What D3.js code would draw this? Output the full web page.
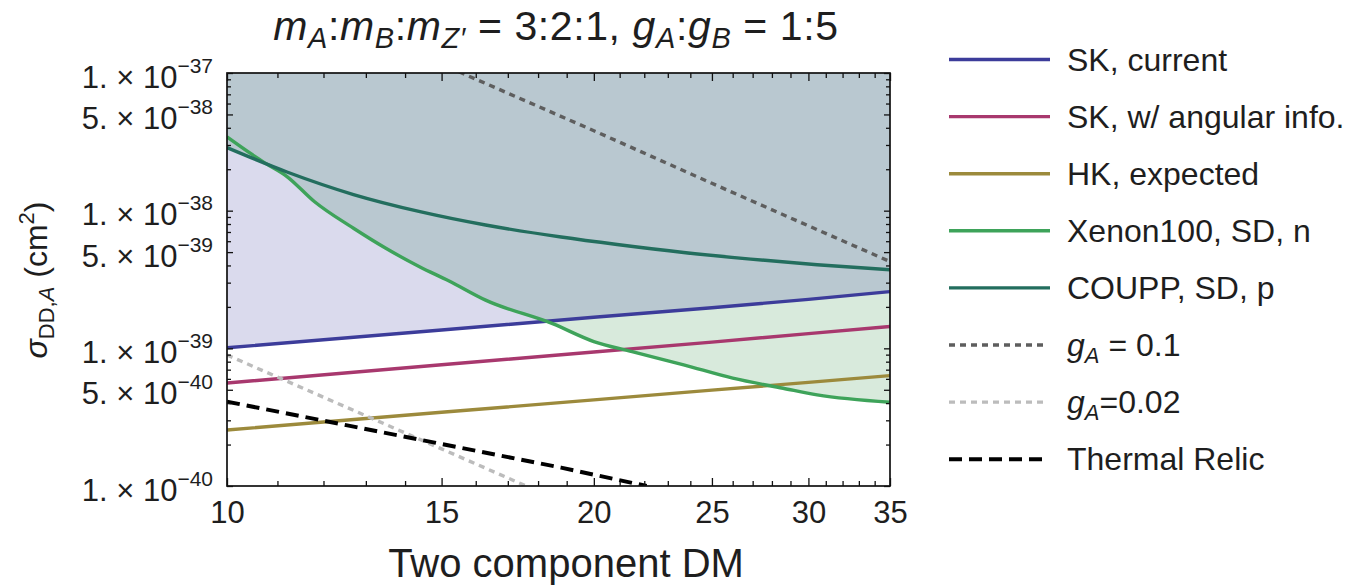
<!DOCTYPE html>
<html><head><meta charset="utf-8">
<script src="https://cdn.jsdelivr.net/npm/d3@7"></script>
<style>
body{margin:0;background:#fff}
text{font-family:"Liberation Sans",Arial,sans-serif;fill:#1e1e1e;white-space:pre}
</style>
</head><body>
<svg id="c" width="1351" height="588"></svg>
<script>
// ---------- data ----------
const skMass      = [10, 15, 20, 25, 30, 35];
const skCurrent   = [1.01e-39, 1.36e-39, 1.68e-39, 1.97e-39, 2.27e-39, 2.58e-39];
const skAngular   = [5.6e-40, 7.6e-40, 9.4e-40, 1.11e-39, 1.28e-39, 1.44e-39];
const hkExpected  = [2.55e-40, 3.43e-40, 4.22e-40, 4.97e-40, 5.66e-40, 6.34e-40];

const xenonMass = [10, 10.5, 10.7, 11.2, 11.8, 12.7, 13.5, 14.4, 15.2, 16.3, 18.5, 20.0, 21.5, 23.7, 26.0, 28.6, 30.5, 35];
const xenonSD   = [3.44e-38, 2.54e-38, 2.27e-38, 1.77e-38, 1.16e-38, 7.45e-39, 5.33e-39, 3.9e-39, 3.1e-39, 2.24e-39, 1.51e-39, 1.12e-39, 9.46e-40, 7.59e-40, 6.07e-40, 5.13e-40, 4.59e-40, 4.06e-40];

const couppMass = [10, 11.2, 12.7, 14.4, 16.3, 18.8, 20.9, 23.7, 26.9, 30.5, 35];
const couppSD   = [2.87e-38, 1.91e-38, 1.31e-38, 9.84e-39, 7.87e-39, 6.44e-39, 5.68e-39, 4.97e-39, 4.45e-39, 4.05e-39, 3.72e-39];

const gA01Mass  = [15.5, 20, 25, 30, 35];
const gA01      = [1.02e-37, 3.81e-38, 1.58e-38, 7.76e-39, 4.27e-39];
const gA002Mass = [10, 12.5, 15, 17.6];
const gA002     = [8.95e-40, 3.77e-40, 1.86e-40, 1.0e-40];
const relicMass = [10, 15, 18.8, 22.1];
const relic     = [4.1e-40, 2.02e-40, 1.36e-40, 1.0e-40];

const xMajor = [10, 15, 20, 25, 30, 35];
const xMinor = [11,12,13,14,16,17,18,19,21,22,23,24,26,27,28,29,31,32,33,34];
const yMajor = [1e-37, 5e-38, 1e-38, 5e-39, 1e-39, 5e-40, 1e-40];
const yMinor = [9e-38,8e-38,7e-38,6e-38,4e-38,3e-38,2e-38,
                9e-39,8e-39,7e-39,6e-39,4e-39,3e-39,2e-39,
                9e-40,8e-40,7e-40,6e-40,4e-40,3e-40,2e-40];

const titleText  = "{i:m}{isub:A}:{i:m}{isub:B}:{i:m}{isub:Z′} = 3:2:1, {i:g}{isub:A}:{i:g}{isub:B} = 1:5";
const xTitle     = "Two component DM";
const yTitle     = "{i:σ}{sub:DD,}{isub:A} (cm{sup:2})";
const legendLabels = ["SK, current", "SK, w/ angular info.", "HK, expected", "Xenon100, SD, n",
                      "COUPP, SD, p", "{i:g}{isub:A} = 0.1", "{i:g}{isub:A}=0.02", "Thermal Relic"];

// ---------- styles ----------
const cSK = "#3c3c9a", cAng = "#a8386e", cHK = "#9c8a3c", cXe = "#3ea35a", cCo = "#236e5e";
const cG1 = "#5e5e5e", cG2 = "#bcbcbc", cRel = "#000000";
const fPurple = "#dadaed", fGreen = "#d8eadc", fGray = "#b9c8d0";
const legendStyles = [
  {c:cSK,  w:3.4, dash:null}, {c:cAng, w:3.4, dash:null}, {c:cHK, w:3.4, dash:null},
  {c:cXe,  w:3.4, dash:null}, {c:cCo,  w:3.4, dash:null},
  {c:cG1,  w:3.4, dash:"6,5"}, {c:cG2, w:3.4, dash:"6,5"}, {c:cRel, w:4, dash:"13,7"}
];

// ---------- layout ----------
const L = 227, R = 890, T = 73, B = 486;
const svg = d3.select("#c");
const x = d3.scaleLog().domain([10, 35]).range([L, R]);
const y = d3.scaleLog().domain([1e-40, 1e-37]).range([B, T]);

function rich(sel, markup, fs, subFs, subShift, supShift) {
  const re = /\{(\w+):([^}]*)\}/g; let last = 0, m, off = 0;
  const add = (txt, kind) => {
    if (!txt) return;
    const small = (kind === "sub" || kind === "isub" || kind === "sup");
    let target = 0;
    if (kind === "sub" || kind === "isub") target = subShift;
    if (kind === "sup") target = -supShift;
    sel.append("tspan").text(txt).attr("dy", target - off)
      .attr("font-size", small ? subFs : fs)
      .attr("font-style", (kind === "i" || kind === "isub") ? "italic" : null);
    off = target;
  };
  while ((m = re.exec(markup))) { add(markup.slice(last, m.index), ""); add(m[2], m[1]); last = re.lastIndex; }
  add(markup.slice(last), "");
}

const pts = (ms, vs) => ms.map((mm, i) => [mm, vs[i]]);
const sk = pts(skMass, skCurrent), ang = pts(skMass, skAngular), hk = pts(skMass, hkExpected);
const xe = pts(xenonMass, xenonSD), co = pts(couppMass, couppSD);
const g1 = pts(gA01Mass, gA01), g2 = pts(gA002Mass, gA002), rel = pts(relicMass, relic);

const lineG = c => d3.line().x(d => x(d[0])).y(d => y(d[1])).curve(c);
const aboveG = c => d3.area().x(d => x(d[0])).y0(d => y(d[1])).y1(T - 5).curve(c);
const belowG = c => d3.area().x(d => x(d[0])).y0(d => y(d[1])).y1(B + 5).curve(c);
const lin = d3.curveLinear, mono = d3.curveMonotoneX;

const defs = svg.append("defs");
defs.append("clipPath").attr("id", "plot").append("rect")
  .attr("x", L).attr("y", T).attr("width", R - L).attr("height", B - T);
defs.append("clipPath").attr("id", "belowXe").append("path").attr("d", belowG(mono)(xe));
defs.append("clipPath").attr("id", "belowCo").append("path").attr("d", belowG(mono)(co));
const cpDD = defs.append("clipPath").attr("id", "aboveDD");
cpDD.append("path").attr("d", aboveG(mono)(xe));
cpDD.append("path").attr("d", aboveG(mono)(co));

// fills
const fills = svg.append("g").attr("clip-path", "url(#plot)");
fills.append("g").attr("clip-path", "url(#belowXe)")
  .append("g").attr("clip-path", "url(#belowCo)")
  .append("path").attr("d", aboveG(lin)(sk)).attr("fill", fPurple);
const dd = fills.append("g").attr("clip-path", "url(#aboveDD)");
dd.append("path").attr("d", aboveG(lin)(sk)).attr("fill", fGray);
dd.append("path").attr("d", belowG(lin)(sk)).attr("fill", fGreen);

// lines
const lines = svg.append("g").attr("clip-path", "url(#plot)").attr("fill", "none");
const drawLine = (data, curve, st) => lines.append("path").attr("d", lineG(curve)(data))
  .attr("stroke", st.c).attr("stroke-width", st.w).attr("stroke-dasharray", st.dash);
drawLine(sk, lin, legendStyles[0]);
drawLine(ang, lin, legendStyles[1]);
drawLine(hk, lin, legendStyles[2]);
drawLine(xe, mono, legendStyles[3]);
drawLine(co, mono, legendStyles[4]);
drawLine(g1, lin, legendStyles[5]);
drawLine(g2, lin, legendStyles[6]);
drawLine(rel, lin, legendStyles[7]);

// axes (ticks inward, mirrored)
const axG = svg.append("g");
const styleAx = g => { g.select(".domain").remove(); g.selectAll("line").attr("stroke", "#111").attr("stroke-width", 1.3); };
axG.append("g").attr("transform", `translate(0,${B})`)
  .call(d3.axisBottom(x).tickValues(xMajor).tickSize(-8).tickPadding(15).tickFormat(d3.format("d")))
  .call(styleAx)
  .call(g => g.selectAll("text").attr("font-size", 31).attr("fill", "#1e1e1e").attr("font-family", null));
axG.append("g").attr("transform", `translate(0,${B})`)
  .call(d3.axisBottom(x).tickValues(xMinor).tickSize(-5).tickFormat("")).call(styleAx);
axG.append("g").attr("transform", `translate(0,${T})`)
  .call(d3.axisTop(x).tickValues(xMajor).tickSize(-8).tickFormat("")).call(styleAx);
axG.append("g").attr("transform", `translate(0,${T})`)
  .call(d3.axisTop(x).tickValues(xMinor).tickSize(-5).tickFormat("")).call(styleAx);

const yFmt = v => {
  const e = Math.floor(Math.log10(v) + 1e-9);
  const mant = Math.round(v / Math.pow(10, e));
  return `${mant}. × 10{sup:−${-e}}`;
};
axG.append("g").attr("transform", `translate(${L},0)`)
  .call(d3.axisLeft(y).tickValues(yMajor).tickSize(-6).tickFormat(""))
  .call(styleAx)
  .call(g => g.selectAll(".tick").append("text")
    .attr("x", -14).attr("y", 14).attr("text-anchor", "end")
    .each(function(d) { rich(d3.select(this), yFmt(d), 31, 21, 0, 15); }));
axG.append("g").attr("transform", `translate(${L},0)`)
  .call(d3.axisLeft(y).tickValues(yMinor).tickSize(-4).tickFormat("")).call(styleAx);
axG.append("g").attr("transform", `translate(${R},0)`)
  .call(d3.axisRight(y).tickValues(yMajor).tickSize(-6).tickFormat("")).call(styleAx);
axG.append("g").attr("transform", `translate(${R},0)`)
  .call(d3.axisRight(y).tickValues(yMinor).tickSize(-4).tickFormat("")).call(styleAx);

svg.append("rect").attr("x", L).attr("y", T).attr("width", R - L).attr("height", B - T)
  .attr("fill", "none").attr("stroke", "#111").attr("stroke-width", 1.7);

// titles
rich(svg.append("text").attr("x", 556).attr("y", 40).attr("text-anchor", "middle").attr("letter-spacing", 0.6),
     titleText, 41, 29, 8, 0);
svg.append("text").attr("x", 566).attr("y", 577).attr("text-anchor", "middle").attr("font-size", 40).text(xTitle);
rich(svg.append("text").attr("transform", "translate(47,280) rotate(-90)").attr("text-anchor", "middle"),
     yTitle, 32, 22, 7, 13);

// legend
const lg = svg.append("g");
const ly = i => 59.5 + i * 57.1;
legendLabels.forEach((lab, i) => {
  const st = legendStyles[i];
  lg.append("line").attr("x1", 949).attr("x2", st.dash ? 1046 : 1050).attr("y1", ly(i)).attr("y2", ly(i))
    .attr("stroke", st.c).attr("stroke-width", st.w).attr("stroke-dasharray", st.dash);
  rich(lg.append("text").attr("x", 1067).attr("y", ly(i) + 11), lab, 32, 22, 7, 0);
});
</script>
</body></html>
